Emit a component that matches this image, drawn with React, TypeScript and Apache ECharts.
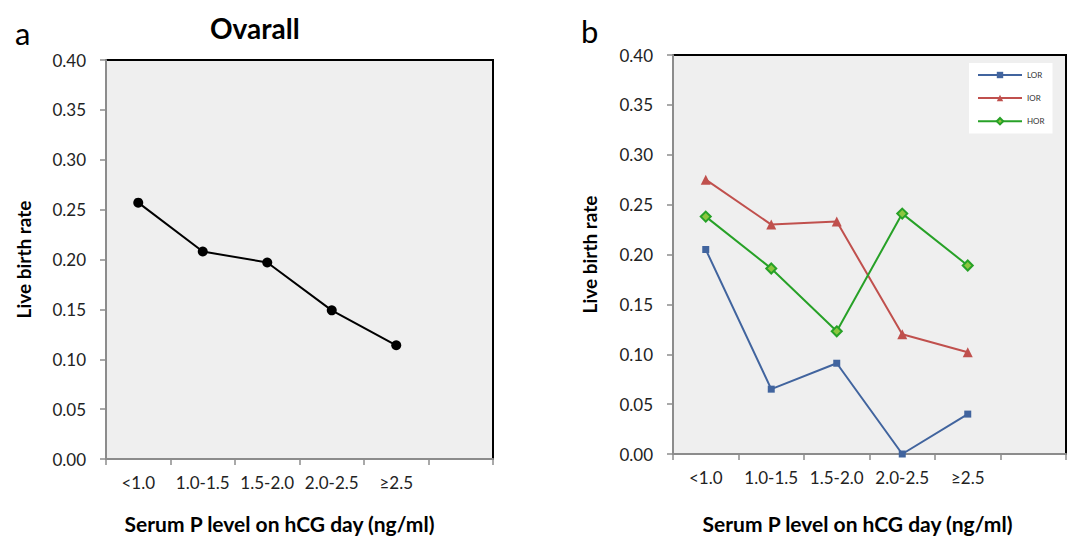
import React, { useEffect, useRef } from "react";
import * as echarts from "echarts";

const categories = ["<1.0", "1.0-1.5", "1.5-2.0", "2.0-2.5", "≥2.5", ""];
const yTicks = [0, 0.4, 0.05];
const overall = [0.257, 0.208, 0.197, 0.149, 0.114];
const lor = [0.205, 0.065, 0.091, 0.0, 0.04];
const ior = [0.275, 0.23, 0.233, 0.12, 0.102];
const hor = [0.238, 0.186, 0.123, 0.241, 0.189];
const xTitle = "Serum P level on hCG day (ng/ml)";
const yTitle = "Live birth rate";

const FONT = "Lato, 'Open Sans', sans-serif";

export default function App() {
  const ref = useRef<HTMLDivElement>(null);
  useEffect(() => {
    if (!ref.current) return;
    const chart = echarts.init(ref.current, undefined, { renderer: "svg" });
    const yAxis = (gridIndex: number, gap: number) => ({
      type: "value",
      gridIndex,
      min: yTicks[0],
      max: yTicks[1],
      interval: yTicks[2],
      name: yTitle,
      nameLocation: "middle",
      nameRotate: 90,
      nameGap: gap,
      nameTextStyle: { fontFamily: FONT, fontWeight: "bold", fontSize: 19, color: "#000" },
      axisLine: { show: true, lineStyle: { color: "#8c8c8c", width: 2 } },
      axisTick: { show: true, inside: false, length: 6, lineStyle: { color: "#8c8c8c", width: 1.5 } },
      axisLabel: {
        formatter: (v: number) => v.toFixed(2),
        fontFamily: FONT,
        fontSize: 17,
        color: "#222",
        margin: 20,
      },
      splitLine: { show: false },
    });
    const xAxis = (gridIndex: number, gap: number, shift: number) => ({
      type: "category",
      gridIndex,
      data: categories,
      boundaryGap: true,
      name: xTitle,
      nameLocation: "middle",
      nameGap: gap,
      nameTextStyle: {
        fontFamily: FONT,
        fontWeight: "bold",
        fontSize: 21,
        color: "#000",
        padding: [0, shift * 2, 0, 0],
      },
      axisLine: { show: true, lineStyle: { color: "#8c8c8c", width: 2 } },
      axisTick: { show: true, alignWithLabel: false, length: 6, lineStyle: { color: "#8c8c8c", width: 1.5 } },
      axisLabel: { interval: 0, fontFamily: FONT, fontSize: 17, color: "#222", margin: 15 },
      splitLine: { show: false },
    });
    chart.setOption({
      animation: false,
      backgroundColor: "#fff",
      textStyle: { fontFamily: FONT },
      title: [
        {
          text: "Ovarall",
          left: 205,
          top: 9,
          textStyle: { fontFamily: FONT, fontWeight: "bold", fontSize: 28, color: "#000" },
        },
        {
          text: "a",
          left: 10,
          top: 12,
          textStyle: { fontFamily: FONT, fontWeight: "normal", fontSize: 31, color: "#000" },
        },
        {
          text: "b",
          left: 576,
          top: 10,
          textStyle: { fontFamily: FONT, fontWeight: "normal", fontSize: 31, color: "#000" },
        },
      ],
      grid: [
        { left: 106, top: 60, width: 387, height: 399, show: true, backgroundColor: "#efefef", borderColor: "#000", borderWidth: 2 },
        { left: 673, top: 55, width: 393, height: 402, show: true, backgroundColor: "#efefef", borderColor: "#000", borderWidth: 2 },
      ],
      xAxis: [xAxis(0, 54, 20), xAxis(1, 59, 12)],
      yAxis: [yAxis(0, 73), yAxis(1, 74)],
      legend: {
        data: ["LOR", "IOR", "HOR"],
        orient: "vertical",
        left: 969,
        top: 63,
        width: 84,
        itemWidth: 44,
        itemHeight: 8,
        itemGap: 15,
        padding: [8, 8, 8, 8],
        backgroundColor: "#fff",
        textStyle: { fontFamily: FONT, fontSize: 8, color: "#333" },
      },
      series: [
        {
          name: "Overall",
          type: "line",
          xAxisIndex: 0,
          yAxisIndex: 0,
          data: overall,
          symbol: "circle",
          symbolSize: 10,
          lineStyle: { color: "#000", width: 2 },
          itemStyle: { color: "#000" },
        },
        {
          name: "LOR",
          type: "line",
          xAxisIndex: 1,
          yAxisIndex: 1,
          data: lor,
          symbol: "rect",
          symbolSize: 7,
          lineStyle: { color: "#41649e", width: 2 },
          itemStyle: { color: "#41649e" },
        },
        {
          name: "IOR",
          type: "line",
          xAxisIndex: 1,
          yAxisIndex: 1,
          data: ior,
          symbol: "triangle",
          symbolSize: 10,
          lineStyle: { color: "#c0504d", width: 2 },
          itemStyle: { color: "#c0504d" },
        },
        {
          name: "HOR",
          type: "line",
          xAxisIndex: 1,
          yAxisIndex: 1,
          data: hor,
          symbol: "diamond",
          symbolSize: 10,
          lineStyle: { color: "#27a127", width: 2 },
          itemStyle: { color: "#8cc63f", borderColor: "#27a127", borderWidth: 2 },
        },
      ],
    });
    return () => chart.dispose();
  }, []);
  return (
    <div
      ref={ref}
      style={{ position: "absolute", left: 0, top: 0, width: 1072, height: 539 }}
    />
  );
}
